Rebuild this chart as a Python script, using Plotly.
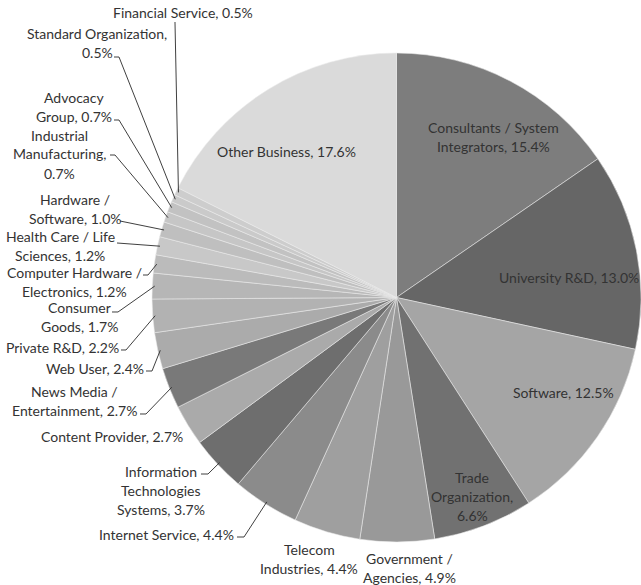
import math
import plotly.graph_objects as go

# ---- data -------------------------------------------------------------
categories = [
    "Consultants / System Integrators", "University R&D", "Software",
    "Trade Organization", "Government / Agencies", "Telecom Industries",
    "Internet Service", "Information Technologies Systems", "Content Provider",
    "News Media / Entertainment", "Web User", "Private R&D", "Consumer Goods",
    "Computer Hardware / Electronics", "Health Care / Life Sciences",
    "Hardware / Software", "Industrial Manufacturing", "Advocacy Group",
    "Standard Organization", "Financial Service", "Other Business",
]
shares = [15.4, 13.0, 12.5, 6.6, 4.9, 4.4, 4.4, 3.7, 2.7, 2.7, 2.4, 2.2,
          1.7, 1.2, 1.2, 1.0, 0.7, 0.7, 0.5, 0.5, 17.6]

# ---- styling ----------------------------------------------------------
slice_colors = [
    "#7d7d7d", "#666666", "#a5a5a5", "#717171", "#999999", "#9f9f9f",
    "#8b8b8b", "#6e6e6e", "#aaaaaa", "#797979", "#ababab", "#b2b2b2",
    "#b6b6b6", "#bbbbbb", "#c8c8c8", "#bfbfbf", "#c6c6c6", "#c2c2c2",
    "#cacaca", "#cdcdcd", "#dadada",
]

W, H = 641, 585
PIE_LEFT, PIE_RIGHT, PIE_TOP, PIE_BOTTOM = 152, 641, 52, 543
TEXT_COLOR = "#333333"
FONT = "Lato"
FONT_SIZE = 14
LINE_GAP = 19

# label placement: centre x, first line y, words per line (last line takes the rest),
# optional leader start points
label_layout = {
    "Consultants / System Integrators": dict(x=493, y=127, words=[3]),
    "University R&D": dict(x=569, y=277, words=[]),
    "Software": dict(x=563, y=393, words=[]),
    "Trade Organization": dict(x=472, y=477, words=[1, 1]),
    "Government / Agencies": dict(x=409, y=558, words=[2]),
    "Telecom Industries": dict(x=309, y=549, words=[1]),
    "Internet Service": dict(x=166, y=534, words=[], lead=[(237, 537), (244, 537)]),
    "Information Technologies Systems": dict(x=161, y=471, words=[1, 1],
                                             lead=[(201, 474), (208, 474)]),
    "Content Provider": dict(x=112, y=436, words=[]),
    "News Media / Entertainment": dict(x=74, y=392, words=[3],
                                       lead=[(140, 414), (146, 414)]),
    "Web User": dict(x=95, y=368, words=[], lead=[(146, 371), (152, 371)]),
    "Private R&D": dict(x=62, y=347, words=[], lead=[(121, 350), (126, 350)]),
    "Consumer Goods": dict(x=79, y=307, words=[1], lead=[(112, 312), (118, 312)]),
    "Computer Hardware / Electronics": dict(x=74, y=272, words=[3],
                                            lead=[(143, 275), (148, 275)]),
    "Health Care / Life Sciences": dict(x=60, y=236, words=[4], lead=[(117, 243)]),
    "Hardware / Software": dict(x=75, y=199, words=[2], lead=[(120, 221)]),
    "Industrial Manufacturing": dict(x=59, y=135, words=[1, 1],
                                     lead=[(110, 155), (115, 155)]),
    "Advocacy Group": dict(x=74, y=98, words=[1], lead=[(114, 120), (119, 120)]),
    "Standard Organization": dict(x=97, y=33, words=[2], lead=[(114, 57), (119, 57)]),
    "Financial Service": dict(x=183, y=12, words=[], lead=[(175, 22)]),
    "Other Business": dict(x=286, y=152, words=[]),
}


def px(x):
    return x / W


def py(y):
    return 1 - y / H


fig = go.Figure(
    go.Pie(
        labels=categories,
        values=shares,
        sort=False,
        direction="clockwise",
        rotation=0,
        textinfo="none",
        hoverinfo="label+percent",
        marker=dict(colors=slice_colors,
                    line=dict(color="rgba(235,235,235,0.55)", width=1)),
        domain=dict(x=[px(PIE_LEFT), px(PIE_RIGHT)],
                    y=[py(PIE_BOTTOM), py(PIE_TOP)]),
        showlegend=False,
    )
)

# pie geometry in pixels (same rule plotly uses: radius = half the shorter side)
cx = (PIE_LEFT + PIE_RIGHT) / 2
cy = (PIE_TOP + PIE_BOTTOM) / 2
radius = min(PIE_RIGHT - PIE_LEFT, PIE_BOTTOM - PIE_TOP) / 2
total = sum(shares)

annotations = []
shapes = []
cum = 0.0
for name, val in zip(categories, shares):
    mid = (cum + val / 2) / total
    cum += val
    spec = label_layout[name]
    words = f"{name}, {val:.1f}%".split(" ")
    lines, i = [], 0
    for n in spec["words"]:
        lines.append(" ".join(words[i:i + n]))
        i += n
    lines.append(" ".join(words[i:]))
    for k, line in enumerate(lines):
        annotations.append(dict(
            x=px(spec["x"]), y=py(spec["y"] + k * LINE_GAP),
            xref="paper", yref="paper", text=line, showarrow=False,
            xanchor="center", yanchor="middle",
            font=dict(family=FONT, size=FONT_SIZE, color=TEXT_COLOR),
        ))
    if "lead" in spec:
        ang = 2 * math.pi * mid
        ex = cx + radius * 0.99 * math.sin(ang)
        ey = cy - radius * 0.99 * math.cos(ang)
        pts = spec["lead"] + [(ex, ey)]
        path = "M " + " L ".join(f"{px(a):.5f},{py(b):.5f}" for a, b in pts)
        shapes.append(dict(type="path", path=path, xref="paper", yref="paper",
                           line=dict(color="#2a2a2a", width=0.9)))

fig.update_layout(
    width=W, height=H, autosize=False,
    margin=dict(l=0, r=0, t=0, b=0),
    paper_bgcolor="white", plot_bgcolor="white",
    annotations=annotations, shapes=shapes,
)

fig.write_html("out.html")
